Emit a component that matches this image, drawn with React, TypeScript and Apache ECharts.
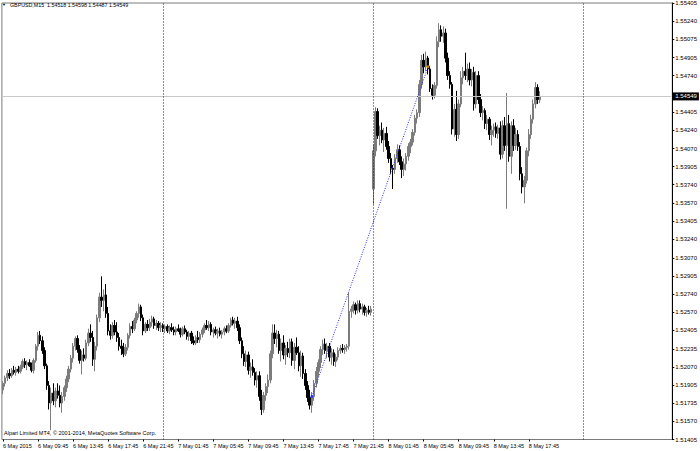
import React, { useEffect, useRef } from "react";
import * as echarts from "echarts";

const SYMBOL = "GBPUSD,M15";
const WATERMARK = "Alpari Limited MT4, © 2001-2014, MetaQuotes Software Corp.";
const SLOT_COUNT = 306;
const LABEL_STEP = 16;
const X_LABELS = ["6 May 2015","6 May 09:45","6 May 13:45","6 May 17:45","6 May 21:45","7 May 01:45","7 May 05:45","7 May 09:45","7 May 13:45","7 May 17:45","7 May 21:45","8 May 01:45","8 May 05:45","8 May 09:45","8 May 13:45","8 May 17:45"];
const Y_TICKS = [1.55405,1.55240,1.55075,1.54905,1.54740,1.54575,1.54405,1.54240,1.54070,1.53905,1.53740,1.53570,1.53405,1.53240,1.53070,1.52905,1.52740,1.52570,1.52405,1.52235,1.52070,1.51905,1.51735,1.51570,1.51405];
const Y_MIN = 1.51405;
const Y_MAX = 1.55405;
const DAY_SEPARATORS = [73, 169, 265];
const TREND_START = [141, 1.5180];
const TREND_END = [194, 1.5482];

const OPEN = [
1.5186,1.5192,1.5197,1.5201,1.5199,1.5204,1.5202,1.5205,1.5203,1.5207,
1.5212,1.5209,1.5211,1.5208,1.5204,1.5213,1.5226,1.5236,1.5231,1.5222,
1.5208,1.5190,1.5174,1.5183,1.5176,1.5185,1.5181,1.5174,1.5180,1.5188,
1.5196,1.5205,1.5215,1.5226,1.5233,1.5223,1.5213,1.5218,1.5215,1.5229,
1.5238,1.5234,1.5214,1.5226,1.5252,1.5271,1.5268,1.5273,1.5256,1.5240,
1.5236,1.5245,1.5239,1.5234,1.5226,1.5224,1.5219,1.5225,1.5236,1.5244,
1.5242,1.5250,1.5256,1.5262,1.5252,1.5240,1.5246,1.5243,1.5248,1.5251,
1.5245,1.5247,1.5243,1.5245,1.5242,1.5244,1.5240,1.5243,1.5241,1.5239,
1.5242,1.5240,1.5237,1.5242,1.5239,1.5235,1.5238,1.5231,1.5229,1.5234,
1.5232,1.5237,1.5241,1.5245,1.5243,1.5246,1.5239,1.5241,1.5238,1.5240,
1.5237,1.5239,1.5242,1.5240,1.5245,1.5250,1.5247,1.5249,1.5243,1.5231,
1.5219,1.5212,1.5218,1.5204,1.5207,1.5202,1.5195,1.5199,1.5180,1.5168,
1.5181,1.5189,1.5195,1.5219,1.5238,1.5233,1.5237,1.5222,1.5229,1.5218,
1.5224,1.5220,1.5230,1.5213,1.5225,1.5220,1.5208,1.5217,1.5201,1.5190,
1.5179,1.5172,1.5180,1.5192,1.5203,1.5211,1.5223,1.5228,1.5222,1.5226,
1.5216,1.5220,1.5212,1.5216,1.5222,1.5224,1.5223,1.5225,1.5226,1.5258,
1.5260,1.5264,1.5259,1.5265,1.5260,1.5262,1.5257,1.5259,1.5257,1.5370,
1.5405,1.5441,1.5419,1.5424,1.5415,1.5421,1.5409,1.5398,1.5389,1.5388,
1.5398,1.5406,1.5395,1.5388,1.5393,1.5400,1.5409,1.5413,1.5422,1.5435,
1.5440,1.5466,1.5488,1.5482,1.5490,1.5480,1.5462,1.5456,1.5465,1.5505,
1.5516,1.5510,1.5513,1.5490,1.5474,1.5466,1.5425,1.5443,1.5420,1.5448,
1.5472,1.5478,1.5474,1.5480,1.5470,1.5477,1.5448,1.5474,1.5452,1.5440,
1.5442,1.5430,1.5434,1.5420,1.5424,1.5427,1.5421,1.5426,1.5402,1.5428,
1.5410,1.5430,1.5400,1.5428,1.5410,1.5420,1.5409,1.5384,1.5372,1.5378,
1.5405,1.5420,1.5434,1.5448,1.5463,1.54518];

const HIGH = [
1.5194,1.5199,1.5204,1.5205,1.5206,1.5208,1.5207,1.5208,1.5209,1.5214,
1.5215,1.5213,1.5214,1.5211,1.5215,1.5228,1.5239,1.5240,1.5235,1.5225,
1.5210,1.5194,1.5188,1.5192,1.5188,1.5192,1.5190,1.5184,1.5190,1.5199,
1.5208,1.5218,1.5229,1.5235,1.5236,1.5227,1.5222,1.5224,1.5232,1.5242,
1.5246,1.5240,1.5230,1.5255,1.5275,1.5290,1.5278,1.5283,1.5262,1.5246,
1.5248,1.5250,1.5248,1.5238,1.5232,1.5229,1.5228,1.5238,1.5247,1.5249,
1.5252,1.5258,1.5265,1.5264,1.5255,1.5248,1.5250,1.5251,1.5254,1.5253,
1.5250,1.5249,1.5248,1.5247,1.5246,1.5246,1.5245,1.5247,1.5244,1.5244,
1.5246,1.5243,1.5244,1.5245,1.5241,1.5240,1.5240,1.5235,1.5236,1.5240,
1.5239,1.5243,1.5247,1.5250,1.5249,1.5248,1.5243,1.5244,1.5242,1.5243,
1.5241,1.5244,1.5245,1.5247,1.5252,1.5253,1.5252,1.5253,1.5246,1.5234,
1.5226,1.5222,1.5221,1.5211,1.5214,1.5206,1.5203,1.5203,1.5186,1.5184,
1.5192,1.5200,1.5222,1.5246,1.5246,1.5241,1.5240,1.5233,1.5236,1.5227,
1.5230,1.5233,1.5233,1.5229,1.5234,1.5226,1.5222,1.5220,1.5205,1.5194,
1.5186,1.5184,1.5195,1.5207,1.5214,1.5226,1.5232,1.5233,1.5229,1.5229,
1.5224,1.5223,1.5219,1.5225,1.5227,1.5228,1.5227,1.5228,1.5275,1.5263,
1.5267,1.5266,1.5268,1.5268,1.5265,1.5264,1.5261,1.5263,1.5263,1.5411,
1.5445,1.5444,1.5428,1.5431,1.5426,1.5427,1.5414,1.5403,1.5392,1.5402,
1.5411,1.5410,1.5400,1.5398,1.5403,1.5412,1.5416,1.5425,1.5438,1.5443,
1.5470,1.5493,1.5494,1.5496,1.5492,1.5483,1.5466,1.5468,1.5510,1.5522,
1.5520,1.5519,1.5517,1.5495,1.5478,1.5468,1.5448,1.5460,1.5452,1.5478,
1.5482,1.5495,1.5485,1.5486,1.5480,1.5482,1.5478,1.5478,1.5457,1.5446,
1.5444,1.5438,1.5436,1.5428,1.5430,1.5431,1.5429,1.5432,1.5433,1.5436,
1.5458,1.5438,1.5432,1.5434,1.5426,1.5424,1.5413,1.5390,1.5382,1.5408,
1.5425,1.5438,1.5452,1.5468,1.5466,1.54598];

const LOW = [
1.5182,1.5189,1.5194,1.5196,1.5197,1.5200,1.5199,1.5201,1.5201,1.5205,
1.5206,1.5204,1.5207,1.5202,1.5201,1.5211,1.5222,1.5228,1.5219,1.5205,
1.5186,1.5168,1.5149,1.5172,1.5170,1.5178,1.5170,1.5165,1.5176,1.5184,
1.5193,1.5202,1.5211,1.5222,1.5220,1.5210,1.5200,1.5212,1.5213,1.5226,
1.5230,1.5208,1.5203,1.5222,1.5248,1.5262,1.5258,1.5252,1.5236,1.5232,
1.5233,1.5236,1.5230,1.5222,1.5218,1.5216,1.5217,1.5222,1.5233,1.5238,
1.5240,1.5247,1.5252,1.5249,1.5236,1.5238,1.5240,1.5240,1.5244,1.5242,
1.5241,1.5240,1.5239,1.5239,1.5238,1.5238,1.5237,1.5239,1.5236,1.5236,
1.5239,1.5234,1.5235,1.5237,1.5232,1.5231,1.5228,1.5227,1.5227,1.5229,
1.5229,1.5234,1.5238,1.5241,1.5240,1.5236,1.5234,1.5236,1.5233,1.5235,
1.5233,1.5236,1.5238,1.5238,1.5243,1.5245,1.5242,1.5240,1.5228,1.5215,
1.5208,1.5207,1.5200,1.5197,1.5199,1.5190,1.5188,1.5176,1.5163,1.5165,
1.5176,1.5183,1.5192,1.5215,1.5228,1.5225,1.5219,1.5212,1.5214,1.5209,
1.5216,1.5215,1.5208,1.5205,1.5218,1.5203,1.5198,1.5196,1.5186,1.5175,
1.5168,1.5165,1.5176,1.5188,1.5198,1.5206,1.5218,1.5219,1.5215,1.5212,
1.5209,1.5208,1.5207,1.5213,1.5219,1.5220,1.5219,1.5221,1.5223,1.5252,
1.5256,1.5255,1.5256,1.5257,1.5255,1.5254,1.5253,1.5255,1.5254,1.5356,
1.5400,1.5416,1.5410,1.5412,1.5404,1.5406,1.5394,1.5384,1.5370,1.5384,
1.5394,1.5392,1.5380,1.5382,1.5387,1.5396,1.5403,1.5410,1.5419,1.5430,
1.5436,1.5462,1.5476,1.5478,1.5475,1.5459,1.5452,1.5453,1.5462,1.5500,
1.5505,1.5504,1.5486,1.5470,1.5462,1.5420,1.5418,1.5414,1.5416,1.5445,
1.5466,1.5470,1.5468,1.5465,1.5464,1.5442,1.5444,1.5448,1.5436,1.5433,
1.5425,1.5424,1.5415,1.5410,1.5418,1.5417,1.5416,1.5397,1.5398,1.5405,
1.5352,1.5395,1.5384,1.5405,1.5406,1.5405,1.5378,1.5366,1.5357,1.5375,
1.5400,1.5416,1.5430,1.5444,1.5448,1.54487];

const CLOSE = [
1.5192,1.5197,1.5201,1.5199,1.5204,1.5202,1.5205,1.5203,1.5207,1.5212,
1.5209,1.5211,1.5208,1.5204,1.5213,1.5226,1.5236,1.5231,1.5222,1.5208,
1.5190,1.5174,1.5183,1.5176,1.5185,1.5181,1.5174,1.5180,1.5188,1.5196,
1.5205,1.5215,1.5226,1.5233,1.5223,1.5213,1.5218,1.5215,1.5229,1.5238,
1.5234,1.5214,1.5226,1.5252,1.5271,1.5268,1.5273,1.5256,1.5240,1.5236,
1.5245,1.5239,1.5234,1.5226,1.5224,1.5219,1.5225,1.5236,1.5244,1.5242,
1.5250,1.5256,1.5262,1.5252,1.5240,1.5246,1.5243,1.5248,1.5251,1.5245,
1.5247,1.5243,1.5245,1.5242,1.5244,1.5240,1.5243,1.5241,1.5239,1.5242,
1.5240,1.5237,1.5242,1.5239,1.5235,1.5238,1.5231,1.5229,1.5234,1.5232,
1.5237,1.5241,1.5245,1.5243,1.5246,1.5239,1.5241,1.5238,1.5240,1.5237,
1.5239,1.5242,1.5240,1.5245,1.5250,1.5247,1.5249,1.5243,1.5231,1.5219,
1.5212,1.5218,1.5204,1.5207,1.5202,1.5195,1.5199,1.5180,1.5168,1.5181,
1.5189,1.5195,1.5219,1.5238,1.5233,1.5237,1.5222,1.5229,1.5218,1.5224,
1.5220,1.5230,1.5213,1.5225,1.5220,1.5208,1.5217,1.5201,1.5190,1.5179,
1.5172,1.5180,1.5192,1.5203,1.5211,1.5223,1.5228,1.5222,1.5226,1.5216,
1.5220,1.5212,1.5216,1.5222,1.5224,1.5223,1.5225,1.5226,1.5258,1.5260,
1.5264,1.5259,1.5265,1.5260,1.5262,1.5257,1.5259,1.5257,1.5260,1.5405,
1.5441,1.5419,1.5424,1.5415,1.5421,1.5409,1.5398,1.5389,1.5388,1.5398,
1.5406,1.5395,1.5388,1.5393,1.5400,1.5409,1.5413,1.5422,1.5435,1.5440,
1.5466,1.5488,1.5482,1.5490,1.5480,1.5462,1.5456,1.5465,1.5505,1.5516,
1.5510,1.5513,1.5490,1.5474,1.5466,1.5425,1.5443,1.5420,1.5448,1.5472,
1.5478,1.5474,1.5480,1.5470,1.5477,1.5448,1.5474,1.5452,1.5440,1.5442,
1.5430,1.5434,1.5420,1.5424,1.5427,1.5421,1.5426,1.5402,1.5428,1.5410,
1.5430,1.5400,1.5428,1.5410,1.5420,1.5409,1.5384,1.5372,1.5378,1.5405,
1.5420,1.5434,1.5448,1.5463,1.5452,1.54549];

const fmt5 = (v: number) => v.toFixed(5);

export default function App() {
  const ref = useRef<HTMLDivElement>(null);
  useEffect(() => {
    if (!ref.current) return;
    const chart = echarts.init(ref.current, null, { renderer: "svg" });
    const n = CLOSE.length;
    const last = n - 1;
    const current = CLOSE[last];
    const categories = Array.from({ length: SLOT_COUNT }, (_, i) => String(i));
    const candles = CLOSE.map((c, i) => [OPEN[i], c, LOW[i], HIGH[i]]);
    const showIdx = (idx: number) => idx % LABEL_STEP === 0 && idx / LABEL_STEP < X_LABELS.length;
    const title = `${SYMBOL}  ${fmt5(OPEN[last])} ${fmt5(HIGH[last])} ${fmt5(LOW[last])} ${fmt5(CLOSE[last])}`;
    const font = "'Liberation Sans', Arial, sans-serif";

    chart.setOption({
      animation: false,
      backgroundColor: "#ffffff",
      grid: { left: 1, right: 24, top: 2, bottom: 11.5, show: true, borderColor: "#7a7a7a", borderWidth: 1, backgroundColor: "transparent" },
      xAxis: {
        type: "category",
        data: categories,
        boundaryGap: true,
        axisLine: { show: false },
        axisTick: { show: true, interval: (i: number) => showIdx(i), length: 2, lineStyle: { color: "#000" }, alignWithLabel: true },
        axisLabel: {
          show: true,
          interval: (i: number) => showIdx(i),
          formatter: (_v: string, i: number) => (showIdx(i) ? X_LABELS[i / LABEL_STEP] : ""),
          align: "left",
          fontSize: 5.5,
          fontFamily: font,
          color: "#000",
          margin: 3,
        },
        splitLine: { show: false },
      },
      yAxis: {
        type: "value",
        position: "right",
        min: Y_MIN,
        max: Y_MAX,
        axisLine: { show: true, lineStyle: { color: "#000", width: 1 } },
        axisTick: { show: true, customValues: Y_TICKS, length: 2, lineStyle: { color: "#000" } },
        axisLabel: {
          show: true,
          customValues: Y_TICKS,
          // the tick label hidden under the current-price box in the reference
          formatter: (v: number) => (Math.abs(v - current) < 0.0005 ? "" : fmt5(v)),
          fontSize: 6,
          fontFamily: font,
          color: "#000",
          margin: 3,
          align: "left",
        },
        splitLine: { show: false },
      },
      series: [
        {
          type: "line",
          data: [],
          silent: true,
          markLine: {
            silent: true,
            symbol: ["none", "none"],
            animation: false,
            data: [
              [
                {
                  coord: [0, current],
                  lineStyle: { color: "#c8c8c8", type: "solid", width: 1 },
                  label: {
                    show: true,
                    position: "end",
                    formatter: fmt5(current),
                    backgroundColor: "#000",
                    color: "#fff",
                    fontSize: 6,
                    fontFamily: font,
                    padding: [1, 2, 1, 3],
                    distance: 1,
                  },
                },
                { coord: [SLOT_COUNT - 1, current] },
              ],
              ...DAY_SEPARATORS.map((d) => ({
                xAxis: d,
                lineStyle: { color: "#222", type: [1, 2], width: 1 },
                label: { show: false },
              })),
            ],
          },
          z: 1,
        },
        {
          type: "candlestick",
          data: candles,
          barWidth: 2,
          itemStyle: {
            color: "#7c7c7c",
            color0: "#000000",
            borderColor: "#7c7c7c",
            borderColor0: "#000000",
            borderWidth: 1,
          },
          markLine: {
            silent: true,
            symbol: ["none", "none"],
            animation: false,
            data: [
              [
                { coord: [TREND_START[0], TREND_START[1]], lineStyle: { color: "#2a2aff", type: [1, 1.5], width: 1 }, label: { show: false } },
                { coord: [TREND_END[0], TREND_END[1]] },
              ],
            ],
          },
          z: 2,
        },
        {
          type: "scatter",
          data: [TREND_START],
          symbol: "circle",
          symbolSize: 3,
          itemStyle: { color: "#2020ff" },
          silent: true,
          z: 3,
        },
        {
          type: "scatter",
          data: [TREND_END],
          symbol: "circle",
          symbolSize: 3,
          itemStyle: { color: "#ffa500" },
          silent: true,
          z: 3,
        },
      ],
      graphic: [
        { type: "text", left: 2, top: 2.5, style: { text: "▼", fontSize: 4, fill: "#000", fontFamily: font } },
        { type: "text", left: 10, top: 2, style: { text: title, fontSize: 5.3, fill: "#000", fontFamily: font } },
        { type: "text", left: 4, top: 430, style: { text: WATERMARK, fontSize: 5.5, fill: "#000", fontFamily: font } },
      ],
    });
    return () => chart.dispose();
  }, []);
  return <div ref={ref} style={{ position: "fixed", left: 0, top: 0, width: 700, height: 451, background: "#fff" }} />;
}
